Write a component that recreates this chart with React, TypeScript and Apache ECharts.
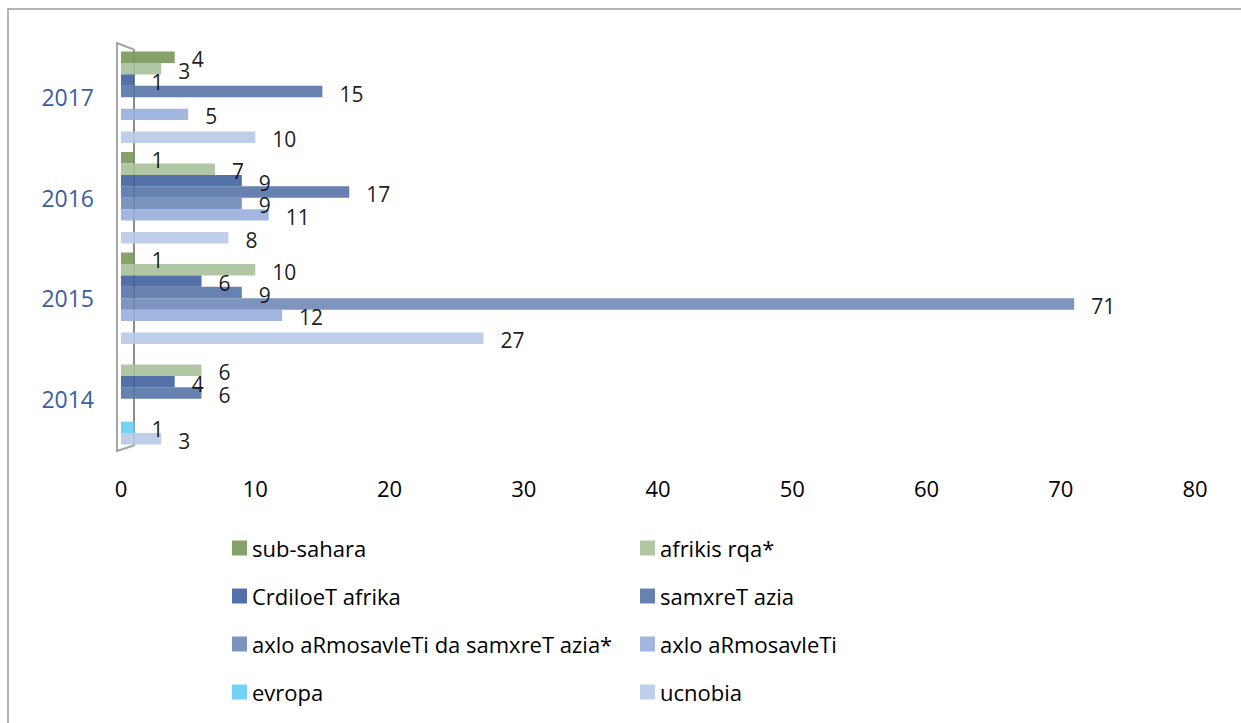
import React, { useEffect, useRef } from "react";
import * as echarts from "echarts";

const categories = ["2014", "2015", "2016", "2017"];
const seriesNames = [
  "sub-sahara",
  "afrikis rqa*",
  "CrdiloeT afrika",
  "samxreT azia",
  "axlo aRmosavleTi da samxreT azia*",
  "axlo aRmosavleTi",
  "evropa",
  "ucnobia",
];
const subSahara = [null, 1, 1, 4];
const afrikisRqa = [6, 10, 7, 3];
const crdiloeTAfrika = [4, 6, 9, 1];
const samxreTAzia = [6, 9, 17, 15];
const axloDaSamxreTAzia = [null, 71, 9, null];
const axloARmosavleTi = [null, 12, 11, 5];
const evropa = [1, null, null, null];
const ucnobia = [3, 27, 8, 10];
const xTicks = { min: 0, max: 80, interval: 10 };

const seriesValues = [
  subSahara,
  afrikisRqa,
  crdiloeTAfrika,
  samxreTAzia,
  axloDaSamxreTAzia,
  axloARmosavleTi,
  evropa,
  ucnobia,
];
const colors = [
  "#77985A",
  "#A9C19A",
  "#41619E",
  "#5673A9",
  "#6F89B7",
  "#98AEDC",
  "#63CEF5",
  "#B9CAE7",
];

const FONT = "Open Sans";

export default function App() {
  const ref = useRef<HTMLDivElement>(null);
  useEffect(() => {
    if (!ref.current) return;
    const chart = echarts.init(ref.current, undefined, { renderer: "svg" });
    const legendText = {
      fontFamily: FONT,
      fontSize: 22,
      lineHeight: 24,
      color: "#000",
    };
    chart.setOption({
      animation: false,
      backgroundColor: "#fff",
      textStyle: { fontFamily: FONT },
      grid: { left: 121, right: 46, top: 47, bottom: 274, containLabel: false },
      xAxis: {
        type: "value",
        min: xTicks.min,
        max: xTicks.max,
        interval: xTicks.interval,
        axisLine: { show: false },
        axisTick: { show: false },
        splitLine: { show: false },
        axisLabel: {
          fontFamily: FONT,
          fontSize: 22,
          color: "#000",
          margin: 28,
        },
      },
      yAxis: {
        type: "category",
        data: categories,
        axisLine: { show: false },
        axisTick: { show: false },
        splitLine: { show: false },
        axisLabel: {
          fontFamily: FONT,
          fontSize: 23,
          color: "#3A5F9F",
          margin: 27,
        },
      },
      legend: [
        {
          data: [seriesNames[0], seriesNames[2], seriesNames[4], seriesNames[6]],
          orient: "vertical",
          left: 232,
          top: 536,
          padding: 0,
          itemWidth: 15,
          itemHeight: 15,
          itemGap: 24,
          icon: "rect",
          textStyle: legendText,
          selectedMode: false,
        },
        {
          data: [seriesNames[1], seriesNames[3], seriesNames[5], seriesNames[7]],
          orient: "vertical",
          left: 640,
          top: 536,
          padding: 0,
          itemWidth: 15,
          itemHeight: 15,
          itemGap: 24,
          icon: "rect",
          textStyle: legendText,
          selectedMode: false,
        },
      ],
      graphic: [
        {
          type: "rect",
          shape: { x: 8, y: 9, width: 1400, height: 900 },
          style: { fill: "none", stroke: "#9C9C9C", lineWidth: 1.5 },
          silent: true,
          z: 0,
        },
        {
          type: "polyline",
          shape: { points: [[134, 50], [134, 445]] },
          style: { stroke: "#8C8C8C", lineWidth: 2, fill: "none" },
          silent: true,
          z: 0,
        },
        {
          type: "polyline",
          shape: { points: [[135, 50], [117, 43], [117, 451], [135, 445]] },
          style: { stroke: "#A6A6A6", lineWidth: 2, fill: "none" },
          silent: true,
          z: 0,
        },
      ],
      series: seriesNames.map((name, i) => ({
        name,
        type: "bar",
        data: seriesValues[i],
        barGap: "0%",
        barCategoryGap: "9%",
        itemStyle: { color: colors[i], opacity: 0.9 },
        label: {
          show: true,
          position: "right",
          distance: 17,
          offset: [0, 2],
          fontFamily: FONT,
          fontSize: 21,
          lineHeight: 19,
          color: "#000",
        },
      })),
    });
    return () => chart.dispose();
  }, []);
  return (
    <div
      ref={ref}
      style={{
        position: "absolute",
        left: 0,
        top: 0,
        width: 1241,
        height: 723,
        overflow: "hidden",
        background: "#fff",
      }}
    />
  );
}
